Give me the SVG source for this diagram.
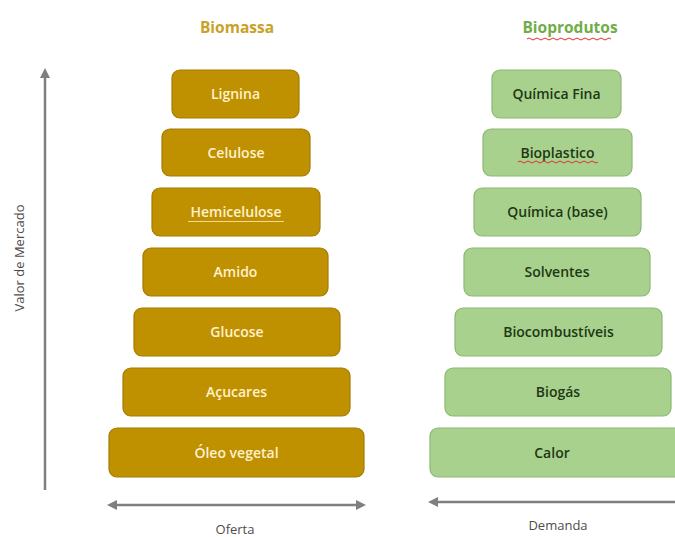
<svg xmlns="http://www.w3.org/2000/svg" width="675" height="537" viewBox="0 0 675 537">
<defs>
<style>
.b rect{fill:#BF9000;stroke:#A47C00;stroke-width:1.2}
.b text{fill:#FFF2CC;font-family:"Open Sans","Liberation Sans",Arial,sans-serif;font-size:14px;font-weight:600;text-anchor:middle}
.g rect{fill:#A9D18E;stroke:#8DB872;stroke-width:1.2}
.g text{fill:#203814;font-family:"Open Sans","Liberation Sans",Arial,sans-serif;font-size:14px;font-weight:600;text-anchor:middle}
.ax{stroke:#7F7F7F;stroke-width:2.5;fill:none}
.lbl{fill:#4D4D4D;font-family:"Open Sans","Liberation Sans",Arial,sans-serif;font-size:13px;text-anchor:middle}
.sq{stroke:#E03030;stroke-width:1;fill:none}
.hd{font-family:"Open Sans","Liberation Sans",Arial,sans-serif;font-size:15.5px;font-weight:bold;text-anchor:middle}
</style>
<marker id="ah" viewBox="0 0 10 10" refX="6" refY="5" markerWidth="4" markerHeight="4" orient="auto-start-reverse">
<path d="M0,0 L10,5 L0,10 z" fill="#7F7F7F"/>
</marker>
</defs>
<rect width="675" height="537" fill="#FFFFFF"/>
<text class="hd" x="237" y="33" fill="#C9A227">Biomassa</text>
<text class="hd" x="570" y="33" fill="#70AD47">Bioprodutos</text>
<path class="sq" d="M527,39 q2,-2 4,0 t4,0 t4,0 t4,0 t4,0 t4,0 t4,0 t4,0 t4,0 t4,0 t4,0 t4,0 t4,0 t4,0 t4,0 t4,0 t4,0 t4,0 t4,0 t4,0 t4,0"/>
<g id="biomassa">
<g id="lignina" class="b"><rect x="172" y="70" width="127" height="48" rx="8"/><text x="235.5" y="99">Lignina</text></g>
<g id="celulose" class="b"><rect x="162" y="129" width="148" height="47" rx="8"/><text x="236" y="157.5">Celulose</text></g>
<g id="hemicelulose" class="b"><rect x="152" y="188" width="168" height="48" rx="8"/><text x="236" y="217">Hemicelulose</text><path d="M188,221.5 h96" stroke="#F4D89A" stroke-width="1"/></g>
<g id="amido" class="b"><rect x="143" y="248" width="185" height="48" rx="8"/><text x="235.5" y="277">Amido</text></g>
<g id="glucose" class="b"><rect x="134" y="308" width="206" height="48" rx="8"/><text x="237" y="337">Glucose</text></g>
<g id="acucares" class="b"><rect x="123" y="368" width="227" height="48" rx="8"/><text x="236.5" y="397">Açucares</text></g>
<g id="oleo" class="b"><rect x="109" y="428" width="255" height="49" rx="8"/><text x="236.5" y="457.5">Óleo vegetal</text></g>
</g>
<g id="bioprodutos">
<g id="quimica-fina" class="g"><rect x="492" y="70" width="129" height="48" rx="8"/><text x="556.5" y="99">Química Fina</text></g>
<g id="bioplastico" class="g"><rect x="483" y="129" width="149" height="47" rx="8"/><text x="557.5" y="157.5">Bioplastico</text><path class="sq" d="M518,162 q2,-2 4,0 t4,0 t4,0 t4,0 t4,0 t4,0 t4,0 t4,0 t4,0 t4,0 t4,0 t4,0 t4,0 t4,0 t4,0 t4,0 t4,0 t4,0 t4,0 t4,0"/></g>
<g id="quimica-base" class="g"><rect x="474" y="188" width="167" height="48" rx="8"/><text x="557.5" y="217">Química (base)</text></g>
<g id="solventes" class="g"><rect x="464" y="248" width="186" height="48" rx="8"/><text x="557" y="277">Solventes</text></g>
<g id="biocombustiveis" class="g"><rect x="455" y="308" width="207" height="48" rx="8"/><text x="558.5" y="337">Biocombustíveis</text></g>
<g id="biogas" class="g"><rect x="445" y="368" width="226" height="48" rx="8"/><text x="558" y="397">Biogás</text></g>
<g id="calor" class="g"><rect x="430" y="428" width="255" height="49" rx="8"/><text x="552" y="457.5">Calor</text></g>
</g>
<g id="connectors">
<path class="ax" d="M45,490 V72" marker-end="url(#ah)"/>
<path class="ax" d="M111,505 H362" marker-start="url(#ah)" marker-end="url(#ah)"/>
<path class="ax" d="M432,502 H680" marker-start="url(#ah)"/>
</g>
<text class="lbl" transform="translate(24,258) rotate(-90)">Valor de Mercado</text>
<text class="lbl" x="235" y="534">Oferta</text>
<text class="lbl" x="558" y="530">Demanda</text>
</svg>
